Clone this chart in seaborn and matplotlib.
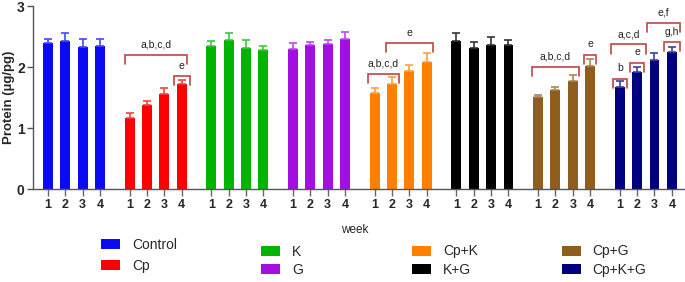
import numpy as np
import pandas as pd
import matplotlib
matplotlib.use('Agg')
import matplotlib.pyplot as plt
import matplotlib.colors as mcolors
import seaborn as sns
from matplotlib.patches import Patch

groups = ['Control', 'Cp', 'K', 'G', 'Cp+K', 'K+G', 'Cp+G', 'Cp+K+G']
weeks = [1, 2, 3, 4]

control_mean = [2.39, 2.43, 2.33, 2.34]
control_sd = [0.07, 0.12, 0.13, 0.12]
cp_mean = [1.16, 1.38, 1.56, 1.73]
cp_sd = [0.09, 0.07, 0.10, 0.06]
k_mean = [2.34, 2.44, 2.32, 2.28]
k_sd = [0.08, 0.12, 0.12, 0.06]
g_mean = [2.30, 2.36, 2.37, 2.46]
g_sd = [0.10, 0.05, 0.07, 0.12]
cpk_mean = [1.58, 1.72, 1.93, 2.08]
cpk_sd = [0.08, 0.11, 0.10, 0.15]
kg_mean = [2.42, 2.32, 2.36, 2.36]
kg_sd = [0.13, 0.09, 0.14, 0.08]
cpg_mean = [1.51, 1.62, 1.77, 2.02]
cpg_sd = [0.03, 0.05, 0.10, 0.12]
cpkg_mean = [1.67, 1.92, 2.12, 2.25]
cpkg_sd = [0.10, 0.08, 0.11, 0.08]

means = [control_mean, cp_mean, k_mean, g_mean, cpk_mean, kg_mean, cpg_mean, cpkg_mean]
sds = [control_sd, cp_sd, k_sd, g_sd, cpk_sd, kg_sd, cpg_sd, cpkg_sd]

colors = ['#0a0af5', '#ff0000', '#00b400', '#a40ee0', '#ff8000', '#000000', '#8f5e1f', '#000080']

# significance brackets: group, first bar, last bar, pad, height, label
brackets = [
    (1, 0, 3, 0.29, 2.20, 'a,b,c,d'),
    (1, 3, 3, 0.46, 1.85, 'e'),
    (4, 0, 1, 0.40, 1.89, 'a,b,c,d'),
    (4, 1, 3, 0.33, 2.39, 'e'),
    (6, 0, 2, 0.35, 2.00, 'a,b,c,d'),
    (6, 3, 3, 0.35, 2.20, 'e'),
    (7, 0, 0, 0.40, 1.81, 'b'),
    (7, 1, 1, 0.40, 2.07, 'e'),
    (7, 0, 1, 0.50, 2.37, 'a,c,d'),
    (7, 3, 3, 0.45, 2.41, 'g,h'),
    (7, 2, 3, 0.45, 2.72, 'e,f'),
]

group_step = 4.7
rows = []
for gi, g in enumerate(groups):
    for wi, w in enumerate(weeks):
        rows.append({'group': g, 'week': w, 'pos': gi * group_step + wi,
                     'mean': means[gi][wi], 'sd': sds[gi][wi]})
df = pd.DataFrame(rows)

sns.set_style('ticks')
plt.rcParams['font.family'] = ['Liberation Sans', 'DejaVu Sans']

fig = plt.figure(figsize=(6.85, 2.82), dpi=100)
ax = fig.add_axes([33 / 685, 1 - 189.3 / 282, (684 - 33) / 685, (189.3 - 6) / 282])

sns.barplot(data=df, x='pos', y='mean', hue='group', hue_order=groups,
            palette=colors, saturation=1, native_scale=True, dodge=False, width=0.57,
            errorbar=None, legend=False, linewidth=0, ax=ax)

for gi, g in enumerate(groups):
    sub = df[df['group'] == g]
    ec = mcolors.to_rgb(colors[gi])
    ec = tuple(0.75 * c + 0.25 for c in ec) if g != 'K+G' else (0.2, 0.2, 0.2)
    ax.errorbar(sub['pos'], sub['mean'], yerr=[np.zeros(len(sub)), sub['sd']],
                fmt='none', ecolor=ec, elinewidth=1.2, capsize=2.9, capthick=1.2)

bcol = '#c04545'
for gi, i0, i1, pad, y, lab in brackets:
    x0 = gi * group_step + i0 - pad
    x1 = gi * group_step + i1 + pad
    ax.plot([x0, x0, x1, x1], [y - 0.15, y, y, y - 0.15], color=bcol, lw=1.2,
            solid_joinstyle='miter', clip_on=False)
    ax.text((x0 + x1) / 2, y + 0.17, lab, ha='center', va='center', fontsize=7.5,
            color='#222222')

ax.set_xlim(-0.86, 36.6)
ax.set_ylim(0, 3)
ax.set_yticks([0, 1, 2, 3])
ax.set_yticklabels(['0', '1', '2', '3'], fontsize=10, fontweight='bold')
ax.set_xticks(df['pos'])
ax.set_xticklabels(df['week'].astype(str), fontsize=9, fontweight='bold')
ax.tick_params(axis='x', length=5, width=1, color='#666666', pad=2)
ax.tick_params(axis='y', length=4, width=1, color='#555555', pad=2)
for s in ['top', 'right']:
    ax.spines[s].set_visible(False)
for s in ['left', 'bottom']:
    ax.spines[s].set_color('#555555')
    ax.spines[s].set_linewidth(1)
ax.set_xlabel('')
ax.set_ylabel('Protein (\u00b5g/pg)', fontsize=9.5, fontweight='bold')
ax.yaxis.set_label_coords(-0.028, 0.5)

fig.text(355 / 685, 1 - 230 / 282, 'week', ha='center', va='center', fontsize=8.5)

handles = [Patch(facecolor=c, edgecolor='none') for c in colors]
cols = [(0, 2, 101, 238, 0.47), (2, 4, 261, 244.5, 0.33),
        (4, 6, 412, 244.5, 0.33), (6, 8, 561.5, 244.5, 0.33)]
for a, b, px, py, ls in cols:
    fig.legend(handles[a:b], groups[a:b], loc='upper left',
               bbox_to_anchor=(px / 685, 1 - py / 282), frameon=False,
               borderpad=0, borderaxespad=0, handlelength=1.4, handleheight=0.72,
               handletextpad=0.83, labelspacing=ls, fontsize=10)

fig.savefig('out.png', dpi=100)
